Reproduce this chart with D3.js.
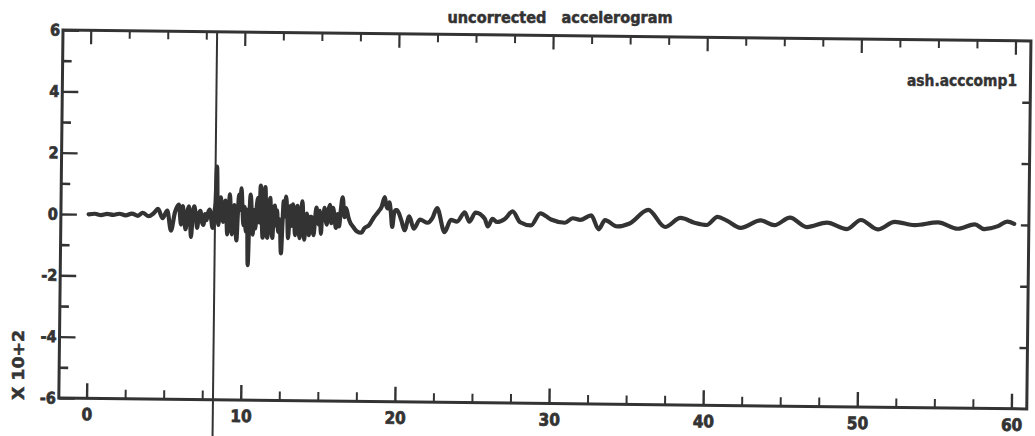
<!DOCTYPE html>
<html>
<head>
<meta charset="utf-8">
<script src="https://cdn.jsdelivr.net/npm/d3@7/dist/d3.min.js"></script>
<style>
  html, body { margin: 0; padding: 0; background: #fff; }
  svg { display: block; }
  text { font-family: "DejaVu Sans Condensed", "DejaVu Sans", sans-serif; font-stretch: condensed; font-weight: bold; fill: #333; }
</style>
</head>
<body>
<svg id="chart" width="1035" height="436"></svg>
<script>
// ---- data ----
const title = "uncorrected   accelerogram";
const seriesLabel = "ash.acccomp1";
const yUnitLabel = "X 10+2";
const xMajorTicks = [0, 10, 20, 30, 40, 50, 60];
const yMajorTicks = [-6, -4, -2, 0, 2, 4, 6];
const markerTime = 8.2;
const time = [
  0.0, 0.4, 0.8, 1.2, 1.6, 2.0, 2.4, 2.8, 3.2, 3.5, 3.9, 4.2, 4.5, 4.8, 5.1, 5.35, 5.6, 5.85,
  6.0, 6.1, 6.2, 6.3, 6.4, 6.5, 6.6, 6.65, 6.75, 6.85, 6.95, 7.05, 7.15, 7.25, 7.35, 7.45, 7.55, 7.65,
  7.75, 7.85, 7.95, 8.05, 8.15, 8.22, 8.3, 8.36, 8.42, 8.5, 8.57, 8.65, 8.72, 8.8, 8.87, 8.94,
  9.0, 9.08, 9.15, 9.22, 9.3, 9.37, 9.45, 9.52, 9.6, 9.68, 9.75, 9.82, 9.9, 9.98, 10.05, 10.12,
  10.2, 10.28, 10.35, 10.42, 10.5, 10.58, 10.65, 10.75, 10.82, 10.9, 11.0, 11.07, 11.15, 11.22,
  11.3, 11.38, 11.45, 11.52, 11.6, 11.68, 11.77, 11.85, 11.93, 12.0, 12.08, 12.15, 12.22, 12.3,
  12.4, 12.5, 12.58, 12.65, 12.72, 12.8, 12.88, 12.95, 13.03, 13.1, 13.17, 13.25, 13.33, 13.4,
  13.48, 13.55, 13.62, 13.7, 13.78, 13.86, 13.93, 14.0, 14.08, 14.15, 14.22, 14.3, 14.38, 14.45,
  14.52, 14.6, 14.7, 14.78, 14.86, 14.93, 15.0, 15.08, 15.15, 15.22, 15.3, 15.38, 15.45, 15.55,
  15.65, 15.75, 15.85, 15.95, 16.05, 16.15, 16.25, 16.35, 16.47, 16.6, 16.7, 16.85, 17.0, 17.15,
  17.4, 17.7, 17.9, 18.2, 18.5, 18.8, 19.0, 19.2, 19.3, 19.4, 19.5, 19.6, 19.7, 19.8, 19.9,
  20.0, 20.3, 20.5, 20.8, 21.1, 21.5, 22.0, 22.3, 22.6, 23.1, 23.5, 23.9, 24.4,
  24.7, 25.1, 25.7, 25.9, 26.2, 26.5, 27.0, 27.5, 28.0, 28.7, 29.3, 30.0, 30.9, 31.4, 31.9, 32.6,
  33.1, 33.5, 34.3, 35.1, 36.3, 37.4, 38.4, 39.3, 40.1, 40.8, 41.4, 42.3, 43.6, 44.5, 45.5, 46.6,
  47.9, 49.2, 50.1, 51.2, 52.3, 53.6, 55.1, 56.4, 57.5, 58.1, 59.0, 59.6, 60.05
];
const accel = [
  0.00, 0.02, -0.02, 0.02, -0.01, 0.03, -0.02, 0.04, -0.03, 0.07, -0.04, 0.05, 0.20, -0.10, 0.15, -0.50, 0.10, 0.35,
  -0.30, 0.30, -0.10, -0.45, 0.10, 0.30, -0.30, -0.70, 0.00, 0.30, 0.00, -0.40, 0.05, 0.15, -0.20, -0.30, 0.05, -0.15,
  0.10, 0.20, -0.10, -0.40, 0.10, 0.40, 1.60, 0.20, -0.30, 0.30, 0.60, 0.00, -0.20, 0.20, 0.50, 0.00,
  -0.60, 0.10, 0.70, 0.10, -0.60, 0.00, 0.35, -0.20, -0.80, 0.10, 0.70, 0.20, 0.90, 0.20, -0.30, 0.30,
  -0.50, 0.20, -1.60, -0.20, 0.70, 0.10, -0.60, 0.20, -0.40, 0.30, 0.60, -0.20, 1.00, 0.10,
  -0.70, 0.20, 0.95, 0.00, -0.70, 0.10, 0.60, -0.20, -0.70, 0.10, 0.35, -0.30, 0.20, -0.50,
  -0.10, -1.20, -0.20, 0.50, 0.00, 0.65, 0.10, -0.70, 0.00, 0.35, -0.30, 0.40, 0.00, -0.60,
  0.10, 0.35, -0.30, -0.70, 0.00, 0.50, -0.10, -0.75, -0.10, 0.10, -0.30, -0.60, 0.00, 0.00,
  -0.40, -0.60, 0.00, 0.30, -0.10, -0.25, 0.20, -0.55, 0.10, -0.10, 0.30, -0.10, -0.25, 0.20,
  0.40, -0.20, 0.30, 0.00, -0.35, 0.10, -0.30, 0.20, 0.65, 0.00, 0.30, 0.00, -0.20, -0.30,
  -0.45, -0.50, -0.35, -0.25, 0.00, 0.20, 0.35, 0.67, 0.40, 0.30, 0.50, 0.20, -0.30, 0.10, 0.25,
  0.25, -0.10, -0.40, 0.05, -0.35, -0.05, -0.15, 0.00, 0.33, -0.45, -0.05, -0.10, 0.20,
  -0.10, 0.20, 0.00, -0.25, 0.00, -0.10, 0.00, 0.25, -0.10, -0.20, 0.20, 0.00, -0.10, 0.05, 0.00, 0.15,
  -0.30, 0.00, -0.20, -0.10, 0.35, -0.20, 0.10, -0.05, -0.12, 0.15, 0.03, -0.20, 0.05, -0.10, 0.15, -0.15,
  0.00, -0.20, 0.10, -0.20, 0.05, -0.05, 0.05, -0.15, 0.00, -0.15, -0.05, 0.10, 0.03
];

// ---- layout ----
const ink = "#333";
const W = 968, H = 368;
const svg = d3.select("#chart");
const x = d3.scaleLinear().domain([-1.8, 61]).range([0, W]);
const y = d3.scaleLinear().domain([-6, 6]).range([H, 0]);
const xMinorTicks = d3.range(0, 60.01, 2.5).filter(v => v % 10 !== 0);
const yMinorTicks = d3.range(-5, 6, 2);
const fmt = d => String(d);

const g = svg.append("g").attr("transform", "translate(63,30) rotate(0.65)");

function styleAxis(sel, width) {
  sel.select(".domain").remove();
  sel.selectAll(".tick line").attr("stroke", ink).attr("stroke-width", width);
  sel.selectAll(".tick text").attr("fill", ink).attr("stroke", ink).attr("stroke-width", 0.7);
}

// top axis (ticks pointing down, no labels)
g.append("g").call(d3.axisBottom(x).tickValues(xMinorTicks).tickSize(8).tickFormat(""))
  .call(s => styleAxis(s, 2));
g.append("g").call(d3.axisBottom(x).tickValues(xMajorTicks).tickSize(14).tickFormat(""))
  .call(s => styleAxis(s, 2.2));

// bottom axis (ticks pointing up, labels below)
g.append("g").attr("transform", `translate(0,${H})`)
  .call(d3.axisBottom(x).tickValues(xMinorTicks).tickSize(-9).tickFormat(""))
  .call(s => styleAxis(s, 2));
g.append("g").attr("transform", `translate(0,${H})`)
  .call(d3.axisBottom(x).tickValues(xMajorTicks).tickSize(-15).tickPadding(10).tickFormat(fmt))
  .call(s => styleAxis(s, 2.4))
  .call(s => s.selectAll(".tick text").style("font-size", "17px"));

// left axis (ticks pointing right, labels left)
g.append("g").call(d3.axisLeft(y).tickValues(yMinorTicks).tickSize(-9).tickFormat(""))
  .call(s => styleAxis(s, 2.6));
g.append("g").call(d3.axisLeft(y).tickValues(yMajorTicks).tickSize(-16).tickPadding(3).tickFormat(fmt))
  .call(s => styleAxis(s, 2.4))
  .call(s => s.selectAll(".tick text").style("font-size", "16px"));

// right axis (ticks pointing left)
g.append("g").attr("transform", `translate(${W},0)`)
  .call(d3.axisLeft(y).tickValues(yMajorTicks.filter(v => Math.abs(v) < 6)).tickSize(8).tickFormat(""))
  .call(s => styleAxis(s, 2.4));

// frame
g.append("rect").attr("x", 0).attr("y", 0).attr("width", W).attr("height", H)
  .attr("fill", "none").attr("stroke", ink).attr("stroke-width", 3);

// marker line
g.append("line")
  .attr("x1", x(markerTime)).attr("x2", x(markerTime))
  .attr("y1", 0).attr("y2", H + 45)
  .attr("stroke", ink).attr("stroke-width", 2);

// accelerogram trace
const pts = time.map((t, i) => [t, accel[i]]);
g.append("path").datum(pts)
  .attr("fill", "none").attr("stroke", ink).attr("stroke-width", 4.2)
  .attr("stroke-linejoin", "round").attr("stroke-linecap", "round")
  .attr("d", d3.line().curve(d3.curveMonotoneX).x(d => x(d[0])).y(d => y(d[1])));

// texts
svg.append("text").attr("x", 560).attr("y", 23).attr("text-anchor", "middle")
  .style("font-size", "16px").style("white-space", "pre")
  .attr("stroke", ink).attr("stroke-width", 0.5)
  .attr("textLength", 225).attr("lengthAdjust", "spacingAndGlyphs")
  .text(title);
svg.append("text").attr("x", 1017).attr("y", 86).attr("text-anchor", "end")
  .style("font-size", "15px")
  .attr("stroke", ink).attr("stroke-width", 0.4)
  .attr("textLength", 110).attr("lengthAdjust", "spacingAndGlyphs")
  .text(seriesLabel);
svg.append("text").attr("transform", "translate(24,365) rotate(-90)")
  .attr("text-anchor", "middle").style("font-size", "16px")
  .attr("stroke", ink).attr("stroke-width", 0.5)
  .attr("textLength", 70).attr("lengthAdjust", "spacingAndGlyphs")
  .text(yUnitLabel);
</script>
</body>
</html>
